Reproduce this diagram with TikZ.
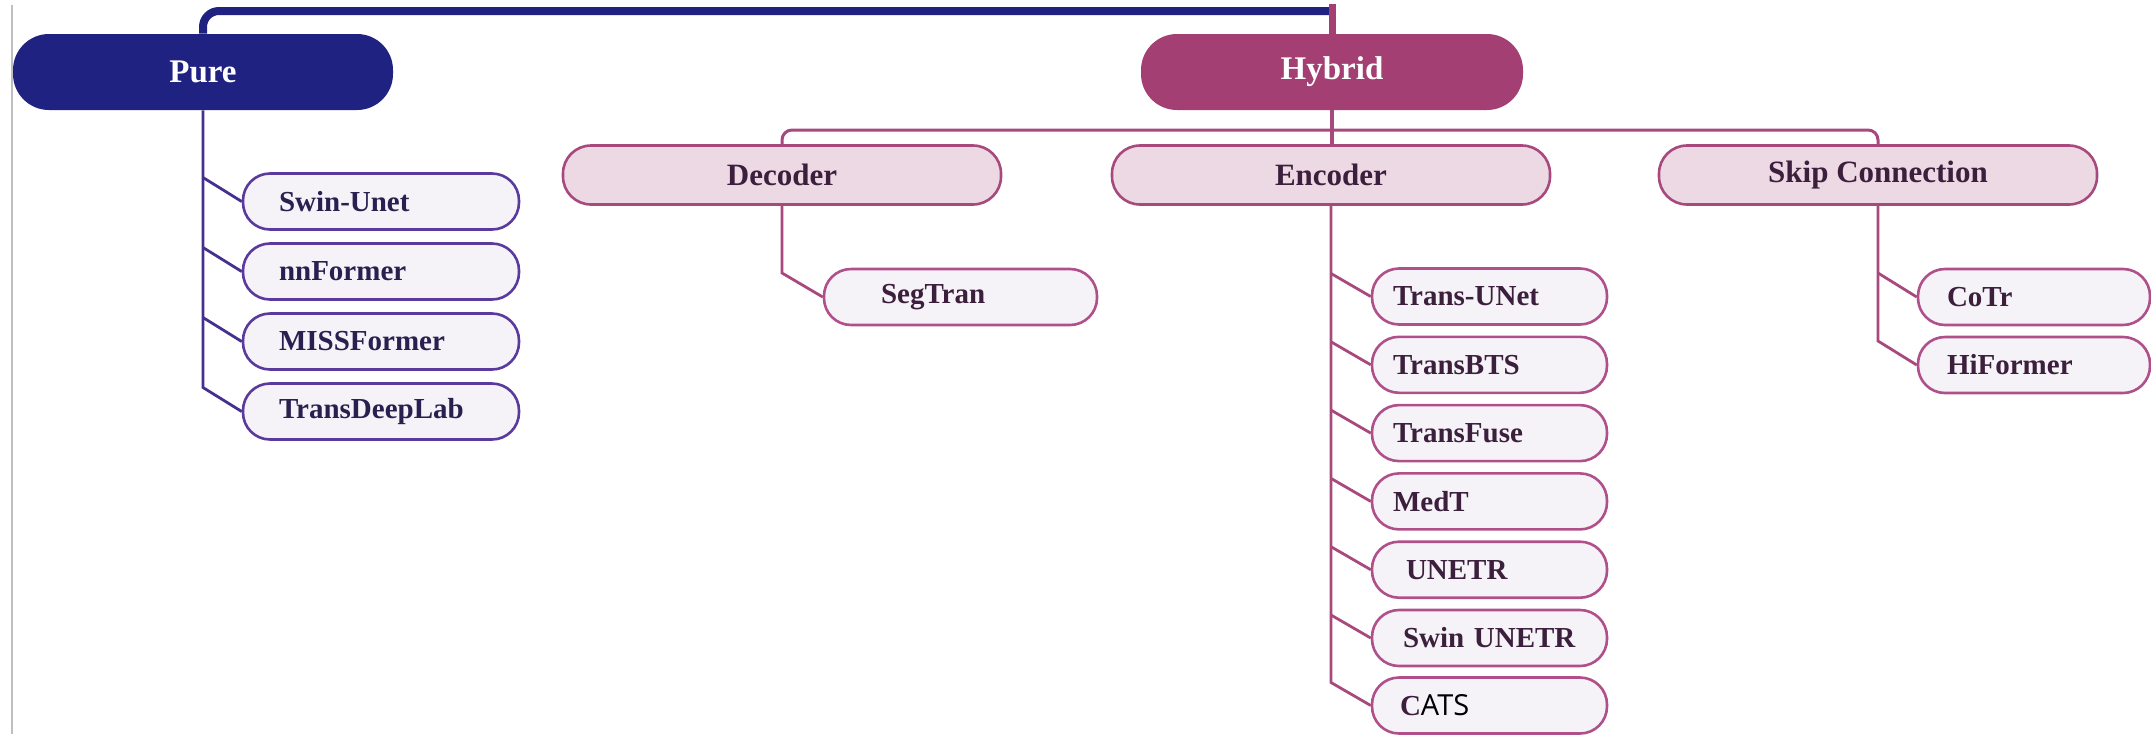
\documentclass[tikz,border=0pt]{standalone}
\usepackage{fontspec}
\setmainfont{Liberation Serif}
\newfontfamily\atsfont{Open Sans}
\newfontfamily\cfont{Liberation Serif}
\usetikzlibrary{calc}
\definecolor{navy}{HTML}{1F2280}
\definecolor{hyb}{HTML}{A33F73}
\definecolor{midfill}{HTML}{ECD9E4}
\definecolor{midline}{HTML}{A8497E}
\definecolor{leaffill}{HTML}{F5F2F8}
\definecolor{pleafline}{HTML}{5B3A9E}
\definecolor{pconncol}{HTML}{45308F}
\definecolor{hleafline}{HTML}{B0508A}
\definecolor{ptext}{HTML}{2A2050}
\definecolor{htext}{HTML}{3C1F3C}
\begin{document}
\begin{tikzpicture}[x=0.5pt,y=-0.5pt,
  topbox/.style={rectangle, rounded corners=18pt, minimum width=#1, minimum height=38pt, inner sep=0pt, text=white, font=\fontsize{16.5}{18}\selectfont\bfseries},
  midbox/.style={rectangle, rounded corners=14pt, minimum width=219pt, minimum height=29.5pt, inner sep=0pt, fill=midfill, draw=midline, line width=1.3pt, text=htext, font=\fontsize{15.5}{17}\selectfont\bfseries},
  leaf/.style 2 args={rectangle, rounded corners=13.5pt, minimum height=28pt, text width=#1, inner xsep=#2, inner ysep=0pt, align=left, fill=leaffill, line width=1.3pt, font=\fontsize{14.5}{16}\selectfont\bfseries},
  pleaf/.style={draw=pleafline, text=ptext},
  hleaf/.style={draw=hleafline, text=htext},
  pconn/.style={draw=pconncol, line width=1.4pt},
  hconn/.style={draw=midline, line width=1.4pt}
]
\useasboundingbox (0,0) rectangle (2151,734);
\draw[black!25, line width=1pt] (12,5) -- (12,734);

% top level
\node[topbox=190pt, fill=navy] (pure) at (203,72) {Pure};
\node[topbox=191pt, fill=hyb] (hybrid) at (1332,72) {Hybrid};
\coordinate (topc) at (1332,11);
\coordinate (topp) at (1332,4);
\draw[navy, line width=4pt, rounded corners=8pt] (pure.north) |- (topc);
\draw[hyb, line width=3.5pt] (hybrid.north) -- (topp);

% second level
\node[midbox] (dec) at (782,175) {Decoder};
\node[midbox] (enc) at (1331,175) {Encoder};
\node[midbox] (skip) at (1878,175) {Skip Connection};
\coordinate (bus) at (0,130);
\draw[midline, line width=1.5pt, rounded corners=5pt] (dec.north) -- (dec.north |- bus) -- (skip.north |- bus) -- (skip.north);
\draw[midline, line width=1.8pt] (hybrid.south) -- (hybrid.south |- enc.north);

% Pure leaves
\node[leaf={102pt}{18pt}, pleaf] (swin) at (381,201.5) {Swin-Unet};
\node[leaf={102pt}{18pt}, pleaf] (nnf) at (381,271.5) {nnFormer};
\node[leaf={102pt}{18pt}, pleaf] (miss) at (381,341.5) {MISSFormer};
\node[leaf={102pt}{18pt}, pleaf] (tdl) at (381,411.5) {TransDeepLab};
\draw[pconn] (pure.south) -- ($(pure.south |- tdl.west)+(0,-24)$) -- (tdl.west);
\foreach \n in {swin,nnf,miss} \draw[pconn] ($(pure.south |- \n.west)+(0,-24)$) -- (\n.west);

% Decoder leaf
\node[leaf={79.5pt}{28.5pt}, hleaf] (seg) at (960.5,297) {SegTran};
\draw[hconn] (dec.south) -- ($(dec.south |- seg.west)+(0,-24)$) -- (seg.west);

% Encoder leaves
\node[leaf={96.5pt}{10.5pt}, hleaf] (tun) at (1489.5,296.5) {Trans-UNet};
\node[leaf={96.5pt}{10.5pt}, hleaf] (tbts) at (1489.5,364.8) {TransBTS};
\node[leaf={96.5pt}{10.5pt}, hleaf] (tfuse) at (1489.5,433.1) {TransFuse};
\node[leaf={96.5pt}{10.5pt}, hleaf] (medt) at (1489.5,501.4) {MedT};
\node[leaf={96.5pt}{10.5pt}, hleaf] (unetr) at (1489.5,569.7) {\hspace*{6.5pt}UNETR};
\node[leaf={96.5pt}{10.5pt}, hleaf] (sunetr) at (1489.5,638) {\hspace*{5pt}Swin UNETR};
\node[leaf={96.5pt}{10.5pt}, hleaf] (cats) at (1489.5,705.5) {\hspace*{3.5pt}{\cfont\bfseries C}{\atsfont\mdseries\color{black}ATS}};
\draw[hconn] (enc.south) -- ($(enc.south |- cats.west)+(0,-23)$) -- (cats.west);
\foreach \n in {tun,tbts,tfuse,medt,unetr,sunetr} \draw[hconn] ($(enc.south |- \n.west)+(0,-23)$) -- (\n.west);

% Skip leaves
\node[leaf={87pt}{14.5pt}, hleaf] (cotr) at (2034,297) {CoTr};
\node[leaf={87pt}{14.5pt}, hleaf] (hif) at (2034,365) {HiFormer};
\draw[hconn] (skip.south) -- ($(skip.south |- hif.west)+(0,-24)$) -- (hif.west);
\draw[hconn] ($(skip.south |- cotr.west)+(0,-24)$) -- (cotr.west);
\end{tikzpicture}
\end{document}
